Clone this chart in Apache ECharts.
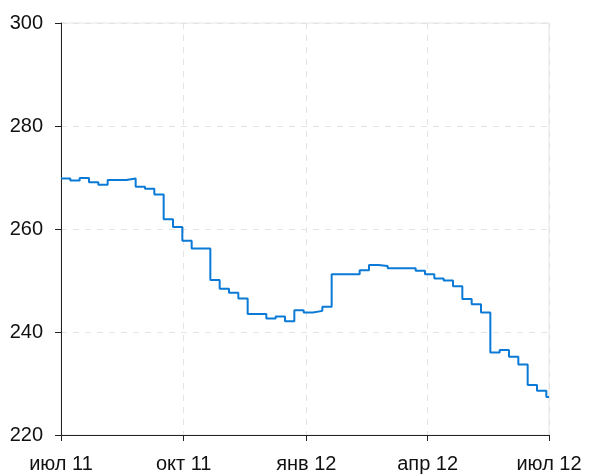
<!DOCTYPE html>
<html>
<head>
<meta charset="utf-8">
<script src="https://cdn.jsdelivr.net/npm/echarts@6/dist/echarts.min.js"></script>
<style>html,body{margin:0;padding:0;background:#fff}#c{width:591px;height:475px}</style>
</head>
<body>
<div id="c"></div>
<script>
// Weekly step series: date each new level starts, and the level
const dates = [
  "2011-07-01","2011-07-08","2011-07-15","2011-07-22","2011-07-29","2011-08-05","2011-08-12","2011-08-19","2011-08-26","2011-09-02",
  "2011-09-09","2011-09-16","2011-09-23","2011-09-30","2011-10-07","2011-10-14","2011-10-21","2011-10-28","2011-11-04","2011-11-11",
  "2011-11-18","2011-11-25","2011-12-02","2011-12-09","2011-12-16","2011-12-23","2011-12-30","2012-01-06","2012-01-13","2012-01-20",
  "2012-01-27","2012-02-03","2012-02-10","2012-02-17","2012-02-24","2012-03-02","2012-03-09","2012-03-16","2012-03-23","2012-03-30",
  "2012-04-06","2012-04-13","2012-04-20","2012-04-27","2012-05-04","2012-05-11","2012-05-18","2012-05-25","2012-06-01","2012-06-08",
  "2012-06-15","2012-06-22","2012-06-29","2012-07-01"
];
const values = [
  269.8,269.4,269.9,269.1,268.6,269.5,269.5,269.8,268.2,267.8,
  266.7,261.9,260.4,257.7,256.2,256.2,250.1,248.4,247.6,246.5,
  243.5,243.5,242.6,243.0,242.1,244.2,243.8,244.1,244.9,251.2,
  251.2,251.2,252.0,253.0,252.8,252.4,252.4,252.4,251.9,251.2,
  250.4,250.0,248.9,246.4,245.4,243.8,236.0,236.5,235.2,233.7,
  229.7,228.6,227.4,227.4
];
const tickDates = ["2011-07-01","2011-10-01","2012-01-01","2012-04-01","2012-07-01"];
const tickLabels = ["июл 11","окт 11","янв 12","апр 12","июл 12"];

const DAY = 86400000;
const ts = s => { const p = s.split("-").map(Number); return Date.UTC(p[0], p[1]-1, p[2]); };
const t0 = ts(tickDates[0]);
const dayOf = s => Math.round((ts(s) - t0) / DAY);
const tickDays = tickDates.map(dayOf);
const seriesData = dates.map((d,i) => [dayOf(d), values[i]]);

const chart = echarts.init(document.getElementById('c'), null, {renderer:'canvas'});
chart.setOption({
  animation:false,
  backgroundColor:'#fff',
  grid:{left:61, right:42, top:23, bottom:40, show:true, borderColor:'#e4e4e4', borderWidth:1},
  xAxis:{
    type:'value', min:tickDays[0], max:tickDays[tickDays.length-1],
    axisLine:{show:true, onZero:false, lineStyle:{color:'#222', width:1}},
    axisTick:{show:true, length:6, lineStyle:{color:'#222'}, customValues:tickDays},
    axisLabel:{customValues:tickDays, margin:19, fontFamily:'Liberation Sans, Arial', fontSize:20, color:'#111',
      formatter:(v)=>{ const i = tickDays.indexOf(v); return i>=0 ? tickLabels[i] : ''; }},
    splitLine:{show:true, lineStyle:{color:'#e4e4e4', type:[6,6], width:1}}
  },
  yAxis:{
    type:'value', min:220, max:300, interval:20,
    axisLine:{show:true, lineStyle:{color:'#222', width:1}},
    axisTick:{show:true, length:6, lineStyle:{color:'#222'}},
    axisLabel:{margin:18, fontFamily:'Liberation Sans, Arial', fontSize:20, color:'#111'},
    splitLine:{show:true, lineStyle:{color:'#e4e4e4', type:[6,6], width:1}}
  },
  series:[{
    type:'line', step:'end', data:seriesData, showSymbol:false, symbol:'none',
    lineStyle:{color:'#0a7ad6', width:2}, clip:false
  }]
});
</script>
</body>
</html>
